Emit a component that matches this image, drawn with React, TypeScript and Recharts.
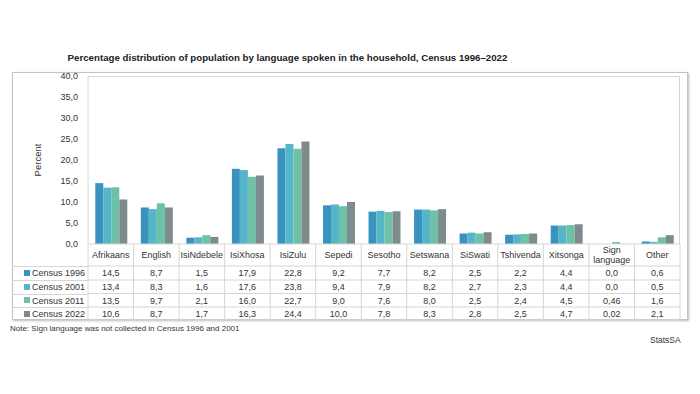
import { BarChart, Bar, XAxis, YAxis } from 'recharts';

const languages = [
  'Afrikaans', 'English', 'IsiNdebele', 'IsiXhosa', 'IsiZulu', 'Sepedi',
  'Sesotho', 'Setswana', 'SiSwati', 'Tshivenda', 'Xitsonga', 'Sign language', 'Other',
];
const census1996 = [14.5, 8.7, 1.5, 17.9, 22.8, 9.2, 7.7, 8.2, 2.5, 2.2, 4.4, 0.0, 0.6];
const census2001 = [13.4, 8.3, 1.6, 17.6, 23.8, 9.4, 7.9, 8.2, 2.7, 2.3, 4.4, 0.0, 0.5];
const census2011 = [13.5, 9.7, 2.1, 16.0, 22.7, 9.0, 7.6, 8.0, 2.5, 2.4, 4.5, 0.46, 1.6];
const census2022 = [10.6, 8.7, 1.7, 16.3, 24.4, 10.0, 7.8, 8.3, 2.8, 2.5, 4.7, 0.02, 2.1];
const yTicks = [0, 5, 10, 15, 20, 25, 30, 35, 40];

const seriesNames = ['Census 1996', 'Census 2001', 'Census 2011', 'Census 2022'];
const seriesKeys = ['c1996', 'c2001', 'c2011', 'c2022'];
const seriesValues = [census1996, census2001, census2011, census2022];
const colors = ['#3a93bf', '#55b6c8', '#6ec1a6', '#7d8b8c'];

const data = languages.map((name, i) => ({
  name,
  c1996: census1996[i],
  c2001: census2001[i],
  c2011: census2011[i],
  c2022: census2022[i],
}));

const FONT = '"Liberation Sans", Arial, sans-serif';
const PLOT_L = 88;
const PLOT_R = 680;
const PLOT_T = 76;
const BASE = 244;
const TABLE_B = 320;
const COL_W = (PLOT_R - PLOT_L) / languages.length;
const rowLines = [266, 280, 293.5, 307, 320];
const rowCenters = [273, 287, 300.5, 314];
const gridColor = '#d6d6d6';

const fmt = (v: number) => {
  const ok = Math.abs(Math.round(v * 10) - v * 10) < 1e-9;
  return (ok ? v.toFixed(1) : v.toFixed(2)).replace('.', ',');
};

function TableTick(props: any) {
  const { x, payload } = props;
  const i = payload.index;
  const label: string = payload.value;
  const left = x - COL_W / 2;
  const right = x + COL_W / 2;
  const lines = label === 'Sign language' ? ['Sign', 'language'] : [label];
  return (
    <g>
      {i === 0 && <line x1={left} x2={left} y1={BASE} y2={TABLE_B} stroke={gridColor} />}
      <line x1={right} x2={right} y1={BASE} y2={TABLE_B} stroke={gridColor} />
      {rowLines.map((ry) => (
        <line key={ry} x1={left} x2={right} y1={ry} y2={ry} stroke={gridColor} />
      ))}
      {lines.map((l, k) => (
        <text
          key={l}
          x={x}
          y={lines.length === 1 ? 258 : 253 + k * 10}
          textAnchor="middle"
          fontSize={9}
          fill="#333"
          fontFamily={FONT}
        >
          {l}
        </text>
      ))}
      {seriesValues.map((vals, r) => (
        <text
          key={r}
          x={x}
          y={rowCenters[r] + 3}
          textAnchor="middle"
          fontSize={9}
          fill="#333"
          fontFamily={FONT}
        >
          {fmt(vals[i])}
        </text>
      ))}
    </g>
  );
}

export default function App() {
  return (
    <div style={{ position: 'absolute', left: 0, top: 0, width: 700, height: 394, background: '#fff', fontFamily: FONT }}>
      <div
        style={{
          position: 'absolute', left: 0, top: 52, width: 575, textAlign: 'center',
          fontSize: 9.7, fontWeight: 'bold', color: '#222',
        }}
      >
        Percentage distribution of population by language spoken in the household, Census 1996–2022
      </div>
      <div
        style={{
          position: 'absolute', left: 12, top: 72, width: 676, height: 248,
          border: '1px solid #c4c4c4', boxShadow: '1px 1px 2px #bbb', boxSizing: 'border-box',
        }}
      />
      <div style={{ position: 'absolute', left: 0, top: 0 }}>
        <BarChart
          width={700}
          height={394}
          data={data}
          margin={{ top: PLOT_T, right: 700 - PLOT_R, left: 28, bottom: 74 }}
          barCategoryGap="16%"
          barGap={0}
        >
          <XAxis
            dataKey="name"
            height={76}
            interval={0}
            tickLine={false}
            axisLine={{ stroke: gridColor }}
            tick={<TableTick />}
          />
          <YAxis
            width={60}
            domain={[0, 40]}
            ticks={yTicks}
            tickFormatter={(v: number) => v.toFixed(1).replace('.', ',')}
            tick={{ fontSize: 9, fill: '#333', fontFamily: FONT }}
            tickLine={false}
            axisLine={{ stroke: gridColor }}
            tickMargin={4}
            label={{
              value: 'Percent', angle: -90, position: 'insideLeft', offset: 10,
              style: { fontSize: 9.5, fill: '#333', fontFamily: FONT, textAnchor: 'middle' },
            }}
          />
          {seriesKeys.map((k, i) => (
            <Bar key={k} dataKey={k} name={seriesNames[i]} fill={colors[i]} isAnimationActive={false} />
          ))}
        </BarChart>
      </div>
      <div
        style={{
          position: 'absolute', left: PLOT_L, top: PLOT_T, width: PLOT_R - PLOT_L, height: BASE - PLOT_T,
          borderTop: `1px solid ${gridColor}`, borderRight: `1px solid ${gridColor}`, boxSizing: 'border-box',
          pointerEvents: 'none',
        }}
      />
      {seriesNames.map((s, r) => (
        <div key={s}>
          <div
            style={{
              position: 'absolute', left: 12, top: rowLines[r], width: PLOT_L - 12, height: 0,
              borderTop: `1px solid ${gridColor}`,
            }}
          />
          <div
            style={{
              position: 'absolute', left: 24, top: rowCenters[r] - 6, height: 12, lineHeight: '12px',
              fontSize: 9, color: '#333', whiteSpace: 'nowrap',
            }}
          >
            <span
              style={{
                display: 'inline-block', width: 6, height: 6, background: colors[r], marginRight: 2,
                verticalAlign: 'middle', position: 'relative', top: -1,
              }}
            />
            {s}
          </div>
        </div>
      ))}
      <div style={{ position: 'absolute', left: 10, top: 324, fontSize: 8, color: '#333', whiteSpace: 'nowrap' }}>
        Note: Sign language was not collected in Census 1996 and 2001
      </div>
      <div style={{ position: 'absolute', left: 650, top: 335, fontSize: 8.5, color: '#333' }}>StatsSA</div>
    </div>
  );
}
